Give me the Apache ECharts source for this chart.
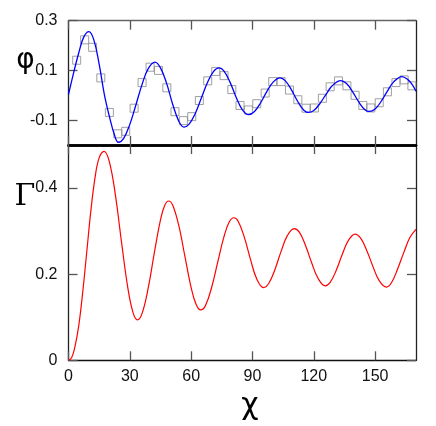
<!DOCTYPE html>
<html>
<head>
<meta charset="utf-8">
<script src="https://cdn.jsdelivr.net/npm/echarts@6/dist/echarts.min.js"></script>
<style>
  html, body { margin: 0; padding: 0; background: #fff; }
  #chart { width: 436px; height: 426px; }
</style>
</head>
<body>
<div id="chart"></div>
<script>
// measured points (grey squares) in the phi panel
var squareX = [4.0, 7.9, 11.8, 15.8, 20.0, 24.1, 28.0, 32.1, 36.0, 39.9, 44.0, 48.1, 52.1, 56.2,
  60.3, 64.0, 68.1, 72.0, 76.1, 79.9, 83.9, 88.0, 92.1, 96.2, 99.9, 104.0, 108.1, 112.2,
  116.2, 120.3, 124.2, 128.0, 132.1, 136.2, 140.2, 144.0, 147.9, 152.0, 156.0, 160.2, 164.2, 168.0];
var squareY = [0.141, 0.223, 0.193, 0.070, -0.069, -0.155, -0.145, -0.052, 0.051, 0.113, 0.100, 0.030, -0.066, -0.102,
  -0.086, -0.021, 0.058, 0.096, 0.079, 0.023, -0.041, -0.059, -0.034, 0.009, 0.055, 0.055, 0.021, -0.018,
  -0.052, -0.051, -0.012, 0.034, 0.058, 0.038, 0.0, -0.041, -0.051, -0.030, 0.014, 0.051, 0.062, 0.038];

// blue curve, phi
var phiX = [0, 2.5, 5, 7.5, 10, 12.5, 15, 17.5, 20, 22.5, 24.4, 27, 30, 33, 36, 39, 42.3, 45, 48, 51, 54, 56.5,
  59, 62, 65, 68, 71, 73.7, 76, 79, 82, 85, 88, 91, 94, 97, 100, 103.5, 106, 109, 112, 115, 117.4,
  120, 123, 126, 129, 133.2, 136, 139, 142, 145, 147.2, 150, 153, 156, 159, 163.1, 166, 168, 170];
var phiY = [0.003, 0.09, 0.17, 0.235, 0.256, 0.22, 0.125, 0.005, -0.085, -0.16, -0.189, -0.173, -0.117, -0.038,
  0.044, 0.107, 0.133, 0.110, 0.048, -0.037, -0.105, -0.128,
  -0.116, -0.073, -0.011, 0.051, 0.096, 0.110, 0.098, 0.053, -0.008, -0.058, -0.078, -0.065, -0.030, 0.015,
  0.052, 0.070, 0.059, 0.023, -0.023, -0.059, -0.069,
  -0.061, -0.033, 0.004, 0.038, 0.059, 0.047, 0.014, -0.027, -0.058, -0.065, -0.055, -0.024, 0.017, 0.053,
  0.075, 0.063, 0.045, 0.016];

// red curve, Gamma
var gammaX = [0, 1.5, 3, 5, 7, 9, 11, 13, 15, 17.4, 20, 23, 26, 29, 31.5, 33.7, 36, 39, 42, 45, 47, 49, 51,
  54, 57, 60, 62.5, 64.7, 67, 70, 73, 76, 78.5, 80.9, 83, 86, 89, 92, 95.4, 98, 101, 104, 107, 110.4,
  113, 116, 119, 122, 125.6, 128, 131, 134, 137, 140.2, 143, 146, 149, 152, 155.5, 158, 161, 164, 167, 170];
var gammaY = [0, 0.006, 0.028, 0.08, 0.16, 0.255, 0.35, 0.425, 0.47, 0.485, 0.461, 0.382, 0.272, 0.169, 0.112,
  0.094, 0.109, 0.168, 0.250, 0.326, 0.359, 0.370, 0.360,
  0.312, 0.240, 0.169, 0.129, 0.117, 0.127, 0.169, 0.228, 0.286, 0.320, 0.331, 0.323, 0.286, 0.235, 0.190,
  0.169, 0.179, 0.211, 0.253, 0.289, 0.306,
  0.297, 0.266, 0.226, 0.191, 0.173, 0.181, 0.209, 0.247, 0.279, 0.293, 0.283, 0.254, 0.217, 0.185, 0.170,
  0.180, 0.212, 0.250, 0.285, 0.304];

var chiTicks = [0, 30, 60, 90, 120, 150];
var phiTicks = [-0.1, 0.1, 0.3];
var gammaTicks = [0, 0.2, 0.4];

function zip(xs, ys) {
  return xs.map(function (x, i) { return [x, ys[i]]; });
}

var chart = echarts.init(document.getElementById('chart'));

var tick = { show: true, inside: true, length: 9, lineStyle: { color: '#555', width: 1.3 } };
var labelFont = { fontFamily: 'Liberation Sans', fontSize: 16, color: '#111' };

function xAx(grid, pos, lineColor, lineWidth, showLabel) {
  return {
    type: 'value', gridIndex: grid, position: pos, min: 0, max: 170,
    axisLine: { show: true, onZero: false, lineStyle: { color: lineColor, width: lineWidth } },
    axisTick: Object.assign({}, tick, { customValues: chiTicks }),
    axisLabel: Object.assign({ show: showLabel, customValues: chiTicks, margin: 8 }, labelFont),
    splitLine: { show: false }
  };
}

function yAx(grid, pos, min, max, ticks, showLabel) {
  return {
    type: 'value', gridIndex: grid, position: pos, min: min, max: max,
    axisLine: { show: true, onZero: false, lineStyle: { color: '#222', width: 1.3 } },
    axisTick: Object.assign({}, tick, { customValues: ticks }),
    axisLabel: Object.assign({ show: showLabel, customValues: ticks, margin: 11 }, labelFont),
    splitLine: { show: false }
  };
}

chart.setOption({
  animation: false,
  backgroundColor: '#fff',
  grid: [
    { left: 68.5, right: 20, top: 20.7, height: 124.3 },
    { left: 68.5, right: 20, top: 145, height: 215.3 }
  ],
  xAxis: [
    xAx(0, 'bottom', '#000', 2.5, false),
    xAx(0, 'top', '#666', 1.3, false),
    xAx(1, 'bottom', '#111', 1.3, true),
    xAx(1, 'top', '#000', 2.5, false)
  ],
  yAxis: [
    yAx(0, 'left', -0.2, 0.3, phiTicks, true),
    yAx(0, 'right', -0.2, 0.3, phiTicks, false),
    yAx(1, 'left', 0, 0.5, gammaTicks, true),
    yAx(1, 'right', 0, 0.5, gammaTicks, false)
  ],
  graphic: [
    { type: 'text', x: 25.5, y: 61, style: { text: 'φ', font: '28px "DejaVu Sans"', fill: '#000', align: 'center', verticalAlign: 'middle' } },
    { type: 'text', x: 25, y: 197, style: { text: 'Γ', font: '30px "DejaVu Serif"', fill: '#000', align: 'center', verticalAlign: 'middle' } },
    { type: 'text', x: 250, y: 406, style: { text: 'χ', font: '30px "DejaVu Sans"', fill: '#000', align: 'center', verticalAlign: 'middle' } }
  ],
  series: [
    {
      type: 'scatter', xAxisIndex: 0, yAxisIndex: 0,
      symbol: 'rect', symbolSize: 8,
      itemStyle: { color: 'rgba(0,0,0,0)', borderColor: '#888', borderWidth: 1 },
      data: zip(squareX, squareY), z: 2
    },
    {
      type: 'line', xAxisIndex: 0, yAxisIndex: 0, smooth: 0.4, showSymbol: false,
      lineStyle: { color: '#0000ff', width: 1.3 },
      data: zip(phiX, phiY), z: 3
    },
    {
      type: 'line', xAxisIndex: 2, yAxisIndex: 2, smooth: 0.4, showSymbol: false,
      lineStyle: { color: '#ff0000', width: 1.2 },
      data: zip(gammaX, gammaY), z: 3
    }
  ]
});
</script>
</body>
</html>
